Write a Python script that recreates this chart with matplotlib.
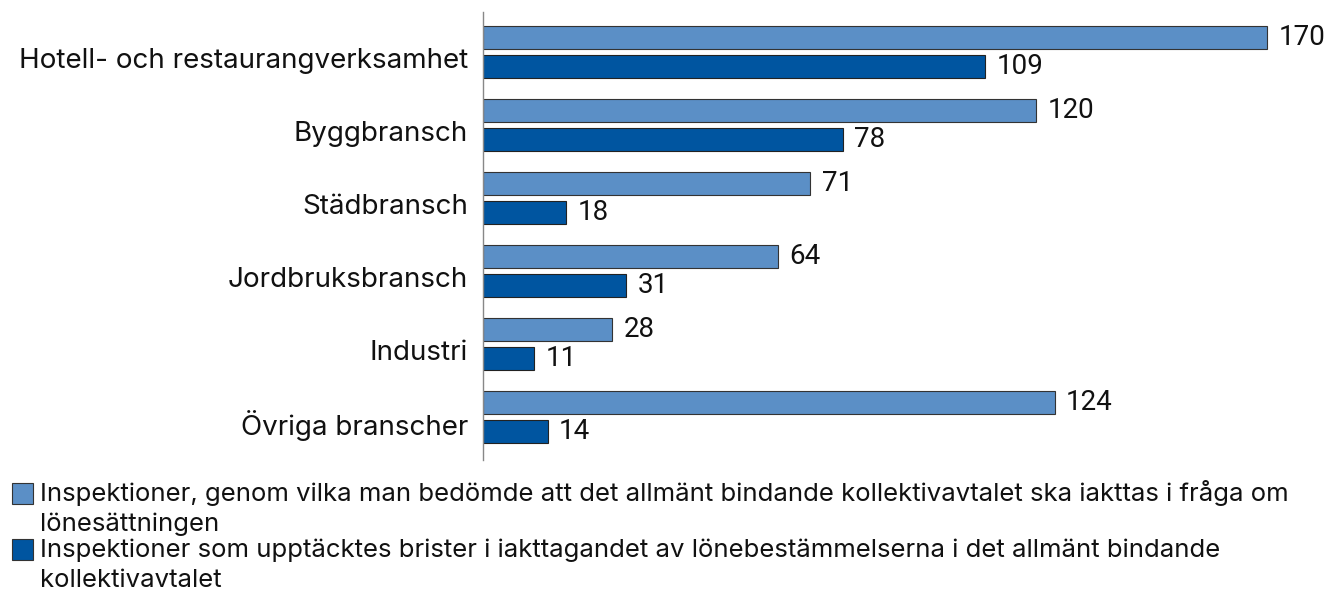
import matplotlib
matplotlib.use("Agg")
import matplotlib.pyplot as plt
from matplotlib.patches import Rectangle
from matplotlib.transforms import ScaledTranslation, blended_transform_factory

categories = ["Hotell- och restaurangverksamhet", "Byggbransch", "Städbransch",
              "Jordbruksbransch", "Industri", "Övriga branscher"]
inspections = [170, 120, 71, 64, 28, 124]
deficiencies = [109, 78, 18, 31, 11, 14]
series_labels = [
    ["Inspektioner, genom vilka man bedömde att det allmänt bindande kollektivavtalet ska iakttas i fråga om",
     "lönesättningen"],
    ["Inspektioner som upptäcktes brister i iakttagandet av lönebestämmelserna i det allmänt bindande",
     "kollektivavtalet"],
]
colors = ["#5B8FC6", "#0055A0"]

plt.rcParams['font.family'] = ['Inter', 'DejaVu Sans']

fig = plt.figure(figsize=(13.36, 6.08), dpi=100)
ax = fig.add_axes([483/1336, 148/608, 1 - 483/1336, (460-12)/608])

y = list(range(len(categories)))
h = 0.31
off = 0.2
b1 = ax.barh([v - off for v in y], inspections, height=h, color=colors[0],
             edgecolor="#333333", linewidth=0.8)
b2 = ax.barh([v + off for v in y], deficiencies, height=h, color=colors[1],
             edgecolor="#222222", linewidth=0.8)
fs = 20
for bars, vals in ((b1, inspections), (b2, deficiencies)):
    for r, v in zip(bars, vals):
        ax.text(r.get_width() + 2.5, r.get_y() + r.get_height()/2, f"{v}",
                va="center", ha="left", fontsize=20, color="#111111",
                family=["Roboto", "DejaVu Sans"])

ax.set_ylim(5.59, -0.55)
ax.set_xlim(0, 853/4.61)
ax.set_yticks(y)
ax.set_yticklabels([])
ax.tick_params(axis="y", length=0)
lab_tr = blended_transform_factory(ax.transAxes, ax.transData) + \
    ScaledTranslation(-15/100, -9/100, fig.dpi_scale_trans)
for yi, cat in zip(y, categories):
    ax.text(0, yi, cat, transform=lab_tr, ha="right", va="center",
            fontsize=fs, color="#111111")
ax.set_xticks([])
for s in ("top", "right", "bottom"):
    ax.spines[s].set_visible(False)
ax.spines["left"].set_color("#888888")
ax.spines["left"].set_linewidth(1)

# legend
lfs = 18.5
ys = [493, 549]
for i, (lines, c) in enumerate(zip(series_labels, colors)):
    yy = ys[i]
    fig.patches.append(Rectangle((12/1336, 1 - (yy + 10.5)/608), 21/1336, 21/608,
                                 transform=fig.transFigure, facecolor=c,
                                 edgecolor="#333333", linewidth=0.8))
    for j, line in enumerate(lines):
        fig.text(40/1336, 1 - (yy + 8 + 30*j)/608, line, fontsize=lfs,
                 va="baseline", ha="left", color="#111111")

fig.savefig("out.png", dpi=100)
